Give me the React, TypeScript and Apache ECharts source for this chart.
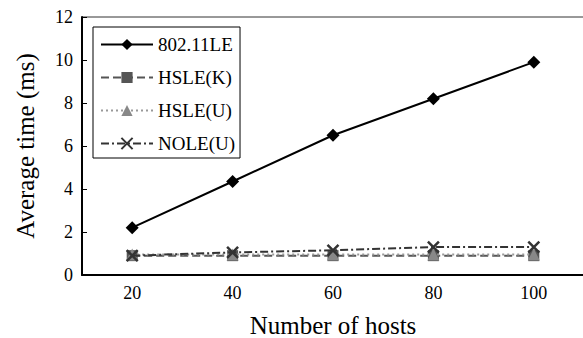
import React, { useEffect, useRef } from "react";
import * as echarts from "echarts";

const hosts = ["20", "40", "60", "80", "100"];
const le80211 = [2.2, 4.35, 6.5, 8.2, 9.9];
const hsleK = [0.9, 0.9, 0.9, 0.9, 0.9];
const hsleU = [0.95, 0.95, 0.95, 0.95, 0.95];
const noleU = [0.9, 1.05, 1.15, 1.3, 1.3];
const yTicks = [0, 2, 4, 6, 8, 10, 12];

const FONT = "'Liberation Serif', 'Times New Roman', serif";
const CROSS = "path://M0,0L10,10M10,0L0,10";

export default function App() {
  const ref = useRef<HTMLDivElement>(null);
  useEffect(() => {
    if (!ref.current) return;
    const chart = echarts.init(ref.current, undefined, { renderer: "svg" });
    chart.setOption({
      animation: false,
      backgroundColor: "#fff",
      textStyle: { fontFamily: FONT },
      grid: {
        left: 82,
        right: -1,
        top: 17,
        bottom: 63,
        outerBoundsMode: "none",
        containLabel: false,
        show: true,
        borderColor: "#333",
        borderWidth: 1,
      },
      legend: {
        orient: "vertical",
        left: 93,
        top: 27,
        borderColor: "#000",
        borderWidth: 1,
        padding: [8, 5, 5, 7],
        itemWidth: 52,
        itemHeight: 14,
        itemGap: 14,
        textStyle: { fontFamily: FONT, fontSize: 19, color: "#000" },
        data: ["802.11LE", "HSLE(K)", "HSLE(U)", "NOLE(U)"],
      },
      xAxis: {
        type: "category",
        data: hosts,
        boundaryGap: true,
        name: "Number of hosts",
        nameLocation: "middle",
        nameGap: 38,
        nameTextStyle: { fontFamily: FONT, fontSize: 25, color: "#000" },
        axisLine: { lineStyle: { color: "#000", width: 2 } },
        axisTick: { inside: true, length: 5, lineStyle: { color: "#000" } },
        axisLabel: { fontFamily: FONT, fontSize: 18, color: "#000", margin: 9 },
        splitLine: { show: false },
      },
      yAxis: {
        type: "value",
        min: yTicks[0],
        max: yTicks[yTicks.length - 1],
        interval: 2,
        name: "Average time (ms)",
        nameLocation: "middle",
        nameGap: 44,
        nameTextStyle: { fontFamily: FONT, fontSize: 25, color: "#000" },
        axisLine: { show: true, lineStyle: { color: "#000", width: 2 } },
        axisTick: { show: true, inside: true, length: 5, lineStyle: { color: "#000" } },
        axisLabel: { fontFamily: FONT, fontSize: 18, color: "#000", margin: 9 },
        splitLine: { show: false },
      },
      series: [
        {
          name: "802.11LE",
          type: "line",
          data: le80211,
          symbol: "diamond",
          symbolSize: 13,
          itemStyle: { color: "#000" },
          lineStyle: { color: "#000", width: 2, type: "solid" },
          z: 5,
        },
        {
          name: "HSLE(K)",
          type: "line",
          data: hsleK,
          symbol: "rect",
          symbolSize: 11,
          itemStyle: { color: "#555" },
          lineStyle: { color: "#555", width: 2, type: [8, 4] },
          z: 2,
        },
        {
          name: "HSLE(U)",
          type: "line",
          data: hsleU,
          symbol: "triangle",
          symbolSize: 12,
          itemStyle: { color: "#888" },
          lineStyle: { color: "#999", width: 2, type: [2, 3] },
          z: 3,
        },
        {
          name: "NOLE(U)",
          type: "line",
          data: noleU,
          symbol: CROSS,
          symbolSize: 11,
          itemStyle: { color: "transparent", borderColor: "#333", borderWidth: 2.5 },
          lineStyle: { color: "#333", width: 2, type: [8, 3, 2, 3] },
          z: 4,
        },
      ],
    });
    return () => chart.dispose();
  }, []);
  return (
    <div
      ref={ref}
      style={{ position: "fixed", left: 0, top: 0, width: 583, height: 338 }}
    />
  );
}
